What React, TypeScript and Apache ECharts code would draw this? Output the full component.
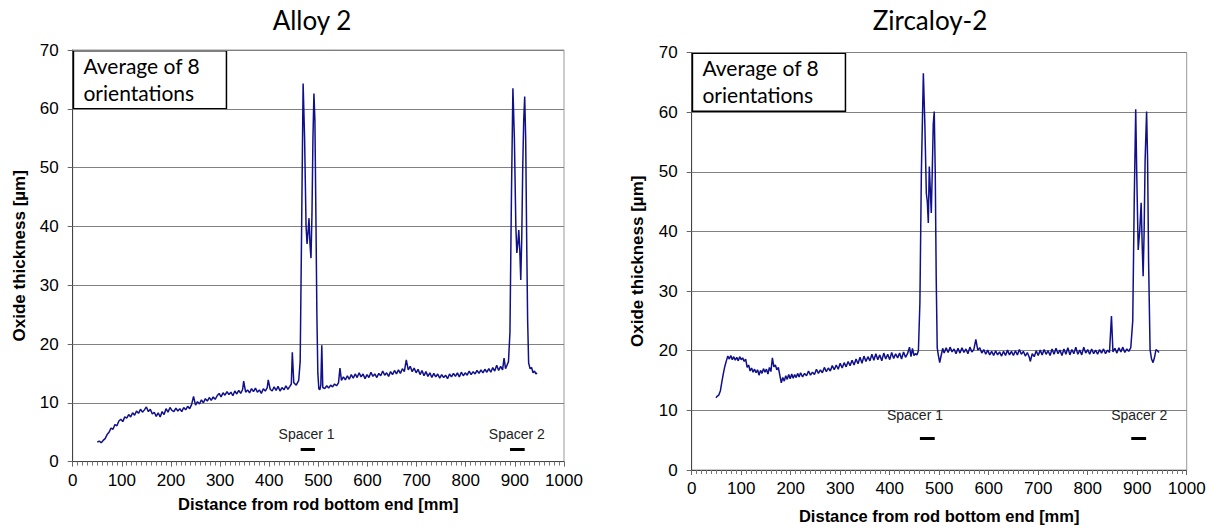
import React, { useEffect, useRef } from "react";
import * as echarts from "echarts";

// Alloy 2: distance along rod [mm] and averaged oxide thickness [µm]
const alloyX = [
  50, 54, 58, 62, 66, 70, 74, 78, 82, 86, 90, 94, 98, 102, 106, 110, 114, 118, 122, 126,
  130, 134, 138, 142, 146, 150, 154, 158, 162, 166, 170, 174, 178, 182, 186, 190, 194, 198, 202, 206,
  210, 214, 218, 222, 226, 230, 234, 238, 242, 246, 250, 254, 258, 262, 266, 270, 274, 278, 282, 286,
  290, 294, 298, 302, 306, 310, 314, 318, 322, 326, 330, 334, 338, 342, 346, 348, 352, 356, 360, 364,
  368, 372, 376, 380, 384, 388, 392, 396, 398, 402, 406, 410, 414, 418, 422, 426, 430, 434, 438, 442,
  445, 447, 450, 455, 460, 463, 466, 469, 472, 475, 477, 479, 481, 483, 485, 487, 489, 491, 493, 495,
  497, 499, 501, 503, 505, 507, 509, 513, 517, 521, 525, 529, 533, 537, 541, 544, 547, 551, 555, 559,
  563, 567, 571, 575, 579, 583, 587, 591, 595, 599, 603, 607, 611, 615, 619, 623, 627, 631, 635, 639,
  643, 647, 651, 655, 659, 663, 667, 671, 675, 679, 683, 687, 691, 695, 699, 703, 707, 711, 715, 719,
  723, 727, 731, 735, 739, 743, 747, 751, 755, 759, 763, 767, 771, 775, 779, 783, 787, 791, 795, 799,
  803, 807, 811, 815, 819, 823, 827, 831, 835, 839, 843, 847, 851, 855, 859, 863, 867, 871, 875, 878,
  881, 884, 887, 890, 893, 896, 899, 902, 904, 906, 908, 910, 912, 914, 916, 918, 920, 922, 924, 926,
  928, 931, 934, 937, 940, 943, 945,
];
const alloyY = [
  3.3, 3.5, 3.2, 3.6, 3.9, 4.6, 5.0, 5.7, 5.5, 6.3, 6.1, 6.9, 7.2, 6.8, 7.6, 7.4, 8.0, 7.6, 8.3, 7.9,
  8.6, 8.2, 8.9, 8.4, 8.8, 9.3, 8.5, 8.9, 8.1, 8.4, 7.7, 8.3, 7.6, 8.5, 8.0, 9.0, 8.4, 9.2, 8.7, 8.5,
  9.1, 8.6, 9.0, 8.5, 9.2, 8.8, 9.4, 9.0, 9.7, 11.1, 9.6, 10.2, 9.8, 10.5, 10.0, 10.7, 10.3, 10.9, 10.4, 11.0,
  10.6, 11.2, 11.6, 11.0, 11.7, 11.3, 11.9, 11.4, 11.8, 11.2, 12.0, 11.5, 12.1, 11.6, 12.3, 13.7, 11.8, 12.2, 11.7, 12.4,
  11.9, 12.5, 11.8, 12.2, 11.6, 12.4, 12.0, 12.6, 13.9, 12.3, 12.0, 12.7, 12.1, 12.8, 12.0, 12.6, 12.2, 12.9, 12.3, 12.8,
  13.2, 18.6, 13.4, 13.0, 13.8, 17.0, 40.0, 64.3, 55.0, 40.0, 37.0, 39.0, 41.4, 37.0, 34.6, 42.0, 55.0, 62.6, 58.0, 42.0,
  25.0, 15.0, 12.4, 12.2, 13.0, 19.8, 12.6, 12.4, 12.9, 12.5, 13.0, 12.7, 13.2, 12.9, 13.4, 15.9, 13.8, 14.4, 13.9, 14.6,
  14.0, 14.8, 14.2, 14.9, 14.3, 15.1, 14.4, 14.9, 14.1, 14.8, 14.3, 15.2, 14.5, 14.9, 14.3, 15.0, 14.6, 15.4, 14.7, 15.1,
  14.5, 15.3, 14.8, 15.5, 14.9, 15.6, 15.0, 15.8, 15.3, 17.3, 15.6, 16.2, 15.3, 15.9, 15.1, 15.7, 14.8, 15.5, 14.6, 15.3,
  14.5, 15.1, 14.3, 15.0, 14.4, 14.9, 14.2, 14.8, 14.3, 14.7, 14.1, 14.9, 14.4, 15.0, 14.5, 15.1, 14.4, 15.2, 14.6, 15.1,
  14.7, 15.4, 14.8, 15.3, 14.9, 15.5, 15.0, 15.6, 15.1, 15.7, 15.2, 15.8, 15.2, 16.0, 15.4, 16.4, 15.5, 16.2, 15.6, 17.6,
  15.8, 16.4, 17.0, 22.0, 45.0, 63.5, 55.0, 40.0, 35.5, 37.0, 39.4, 36.0, 30.9, 38.0, 50.0, 58.0, 62.1, 55.0, 38.0, 24.0,
  16.8, 15.8, 16.0, 15.1, 15.4, 14.9, 15.1,
];

// Zircaloy-2: distance along rod [mm] and averaged oxide thickness [µm]
const zircX = [
  49, 52, 55, 58, 61, 64, 67, 70, 73, 76, 79, 82, 85, 88, 91, 94, 97, 100, 103, 106,
  109, 112, 115, 118, 121, 124, 127, 130, 133, 136, 139, 142, 145, 148, 151, 154, 157, 160, 163, 166,
  169, 172, 175, 178, 181, 184, 187, 190, 193, 196, 199, 202, 205, 208, 211, 214, 217, 220, 224, 228,
  232, 236, 240, 244, 248, 252, 256, 260, 264, 268, 272, 276, 280, 284, 288, 292, 296, 300, 304, 308,
  312, 316, 320, 324, 328, 332, 336, 340, 344, 348, 352, 356, 360, 364, 368, 372, 376, 380, 384, 388,
  392, 396, 400, 404, 408, 412, 416, 420, 424, 428, 432, 436, 440, 443, 446, 449, 452, 455, 458, 461,
  464, 468, 471, 474, 476, 478, 480, 482, 484, 486, 488, 490, 492, 494, 496, 498, 501, 504, 507, 510,
  514, 518, 522, 526, 530, 534, 538, 542, 546, 550, 554, 558, 562, 566, 570, 574, 578, 582, 586, 590,
  594, 598, 602, 606, 610, 614, 618, 622, 626, 630, 634, 638, 642, 646, 650, 654, 658, 662, 666, 670,
  674, 678, 682, 684, 688, 692, 696, 700, 704, 708, 712, 716, 720, 724, 728, 732, 736, 740, 744, 748,
  752, 756, 760, 764, 768, 772, 776, 780, 784, 788, 792, 796, 800, 804, 808, 812, 816, 820, 824, 828,
  832, 836, 840, 844, 848, 851, 855, 859, 863, 867, 871, 875, 879, 883, 887, 891, 894, 897, 899, 902,
  905, 908, 910, 912, 914, 916, 919, 921, 923, 926, 929, 932, 935, 938, 941, 944,
];
const zircY = [
  12.1, 12.4, 12.6, 13.3, 14.8, 16.2, 17.4, 18.3, 19.1, 18.6, 19.2, 18.5, 19.0, 18.4, 18.9, 18.3, 19.0, 18.5, 18.8, 18.2,
  18.6, 17.2, 17.6, 16.6, 17.1, 16.4, 16.9, 16.3, 16.8, 15.9, 16.7, 16.2, 17.0, 16.4, 16.9, 16.1, 17.2, 16.5, 18.8, 17.3,
  17.6, 16.8, 17.2, 15.9, 14.6, 15.5, 14.9, 15.8, 15.2, 16.0, 15.3, 16.1, 15.4, 16.0, 15.5, 16.2, 15.6, 16.3, 15.6, 16.2,
  15.8, 16.6, 15.9, 16.4, 16.0, 16.9, 16.2, 16.8, 16.3, 17.2, 16.5, 17.1, 16.6, 17.5, 16.8, 17.6, 16.9, 17.9, 17.1, 18.0,
  17.3, 18.2, 17.5, 18.4, 17.6, 18.6, 17.8, 18.9, 17.9, 19.1, 18.2, 19.0, 18.3, 19.4, 18.4, 19.5, 18.5, 19.3, 18.3, 19.6,
  18.6, 19.4, 18.5, 19.7, 18.7, 19.5, 18.8, 19.6, 18.6, 19.8, 18.9, 19.5, 20.6, 19.0, 20.4, 19.2, 19.5, 19.3, 20.0, 28.0,
  50.0, 66.5, 58.0, 46.4, 45.0, 41.4, 50.9, 47.0, 43.1, 50.0, 58.0, 60.1, 50.0, 32.0, 20.5, 19.4, 18.0, 19.2, 20.4, 19.6,
  20.5, 19.7, 20.6, 19.8, 20.3, 19.5, 20.4, 19.6, 20.5, 19.7, 20.3, 19.5, 20.6, 19.8, 20.2, 21.9, 20.1, 20.5, 19.6, 20.2,
  19.4, 20.1, 19.3, 19.9, 19.2, 20.0, 19.3, 19.8, 19.1, 19.9, 19.2, 20.1, 19.3, 19.9, 19.2, 20.0, 19.3, 20.2, 19.4, 19.9,
  19.1, 19.7, 18.9, 18.2, 19.5, 19.0, 20.0, 19.2, 20.1, 19.3, 20.2, 19.4, 20.0, 19.2, 20.3, 19.4, 20.4, 19.5, 20.1, 19.2,
  20.3, 19.4, 20.5, 19.3, 20.2, 19.5, 20.6, 19.4, 20.1, 19.3, 20.6, 19.6, 20.2, 19.4, 20.3, 19.5, 20.1, 19.4, 20.2, 19.6,
  20.3, 19.5, 20.1, 19.7, 25.8, 19.8, 20.4, 19.6, 20.5, 19.8, 20.6, 19.7, 20.3, 19.9, 20.5, 25.0, 45.0, 60.5, 50.0, 36.9,
  40.0, 44.8, 38.0, 32.5, 40.0, 52.0, 60.1, 52.0, 35.0, 20.2, 18.6, 18.0, 18.9, 20.2, 20.0, 19.7,
];

// Spacer positions: label point, bar start and end [mm], label and bar heights [µm]
const alloySpacers = [
  { name: "Spacer 1", center: 476, from: 464, to: 493 },
  { name: "Spacer 2", center: 904, from: 890, to: 920 },
];
const alloySpacerLabelY = 4.7;
const alloySpacerBarY = 2.1;
const zircSpacers = [
  { name: "Spacer 1", center: 451, from: 461, to: 491 },
  { name: "Spacer 2", center: 904, from: 888, to: 918 },
];
const zircSpacerLabelY = 9.3;
const zircSpacerBarY = 5.3;

const titles = ["Alloy 2", "Zircaloy-2"];
const xName = "Distance from rod bottom end [mm]";
const yName = "Oxide thickness [µm]";
const noteText = "Average of 8\norientations";

const LINE_COLOR = "#10108a";
const TICK_FONT = "Liberation Sans, Arial, sans-serif";
const TITLE_FONT = "Lato, 'Open Sans', sans-serif";

function pairs(xs: number[], ys: number[]) {
  return xs.map((x, i) => [x, ys[i]]);
}

function spacerMarks(
  list: { name: string; center: number; from: number; to: number }[],
  labelY: number,
  barY: number
) {
  return {
    markPoint: {
      silent: true,
      symbol: "rect",
      symbolSize: 0,
      label: {
        show: true,
        position: "inside",
        color: "#222",
        fontSize: 14,
        fontFamily: TICK_FONT,
        formatter: (p: any) => p.name,
      },
      data: list.map((s) => ({ name: s.name, coord: [s.center, labelY] })),
    },
    markLine: {
      silent: true,
      symbol: ["none", "none"],
      label: { show: false },
      lineStyle: { color: "#000", width: 3, type: "solid" },
      data: list.map((s) => [{ coord: [s.from, barY] }, { coord: [s.to, barY] }]),
    },
  };
}

function xAxisFor(gridIndex: number, nameGap: number) {
  return {
    type: "value",
    gridIndex,
    min: 0,
    max: 1000,
    interval: 100,
    name: xName,
    nameLocation: "middle",
    nameGap,
    nameTextStyle: { fontFamily: TICK_FONT, fontSize: 16.5, fontWeight: "bold", color: "#000" },
    axisLine: { show: true, lineStyle: { color: "#444", width: 1 } },
    axisTick: { show: true, length: 5, lineStyle: { color: "#666" } },
    minorTick: { show: true, splitNumber: 10, length: 4, lineStyle: { color: "#777" } },
    axisLabel: {
      fontFamily: TICK_FONT,
      fontSize: 17,
      color: "#000",
      margin: 10,
      formatter: (v: number) => String(v),
    },
    splitLine: { show: false },
  };
}

function yAxisFor(gridIndex: number, nameGap: number) {
  return {
    type: "value",
    gridIndex,
    min: 0,
    max: 70,
    interval: 10,
    name: yName,
    nameLocation: "middle",
    nameGap,
    nameTextStyle: { fontFamily: TICK_FONT, fontSize: 17, fontWeight: "bold", color: "#000" },
    axisLine: { show: true, lineStyle: { color: "#444", width: 1 } },
    axisTick: { show: true, length: 5, lineStyle: { color: "#666" } },
    axisLabel: {
      fontFamily: TICK_FONT,
      fontSize: 17,
      color: "#000",
      margin: 14,
      formatter: (v: number) => String(v),
    },
    splitLine: { show: true, lineStyle: { color: "#808080", width: 1.2 } },
  };
}

function noteBox(left: number, top: number) {
  return {
    type: "group",
    left,
    top,
    z: 100,
    children: [
      {
        type: "rect",
        shape: { x: 0, y: 0, width: 153, height: 58 },
        style: { fill: "#fff", stroke: "#000", lineWidth: 1.5 },
      },
      {
        type: "text",
        x: 10,
        y: 1,
        style: {
          text: noteText,
          fontFamily: TITLE_FONT,
          fontSize: 21,
          lineHeight: 27,
          fill: "#000",
        },
      },
    ],
  };
}

export default function App() {
  const ref = useRef<HTMLDivElement>(null);

  useEffect(() => {
    if (!ref.current) return;
    const chart = echarts.init(ref.current, undefined, { renderer: "svg" });
    chart.setOption({
      animation: false,
      backgroundColor: "#fff",
      title: [
        {
          text: titles[0],
          left: 307,
          top: 2,
          textAlign: "center",
          textStyle: { fontFamily: TITLE_FONT, fontSize: 26, fontWeight: "normal", color: "#000" },
        },
        {
          text: titles[1],
          left: 925,
          top: 2,
          textAlign: "center",
          textStyle: { fontFamily: TITLE_FONT, fontSize: 26, fontWeight: "normal", color: "#000" },
        },
      ],
      grid: [
        {
          left: 72.7,
          top: 50,
          width: 491.3,
          height: 411.6,
          show: true,
          borderColor: "#999",
          borderWidth: 1,
          backgroundColor: "transparent",
        },
        {
          left: 691.7,
          top: 52.5,
          width: 495,
          height: 418,
          show: true,
          borderColor: "#999",
          borderWidth: 1,
          backgroundColor: "transparent",
        },
      ],
      xAxis: [xAxisFor(0, 34), xAxisFor(1, 37)],
      yAxis: [yAxisFor(0, 45), yAxisFor(1, 46)],
      series: [
        {
          type: "line",
          xAxisIndex: 0,
          yAxisIndex: 0,
          data: pairs(alloyX, alloyY),
          showSymbol: false,
          symbol: "none",
          lineStyle: { color: LINE_COLOR, width: 1.5 },
          ...spacerMarks(alloySpacers, alloySpacerLabelY, alloySpacerBarY),
        },
        {
          type: "line",
          xAxisIndex: 1,
          yAxisIndex: 1,
          data: pairs(zircX, zircY),
          showSymbol: false,
          symbol: "none",
          lineStyle: { color: LINE_COLOR, width: 1.5 },
          ...spacerMarks(zircSpacers, zircSpacerLabelY, zircSpacerBarY),
        },
      ],
      graphic: [noteBox(72.7, 50), noteBox(691.7, 52.5)],
    });
    return () => chart.dispose();
  }, []);

  return (
    <div
      ref={ref}
      style={{ position: "fixed", left: 0, top: 0, width: 1216, height: 529, background: "#fff" }}
    />
  );
}
